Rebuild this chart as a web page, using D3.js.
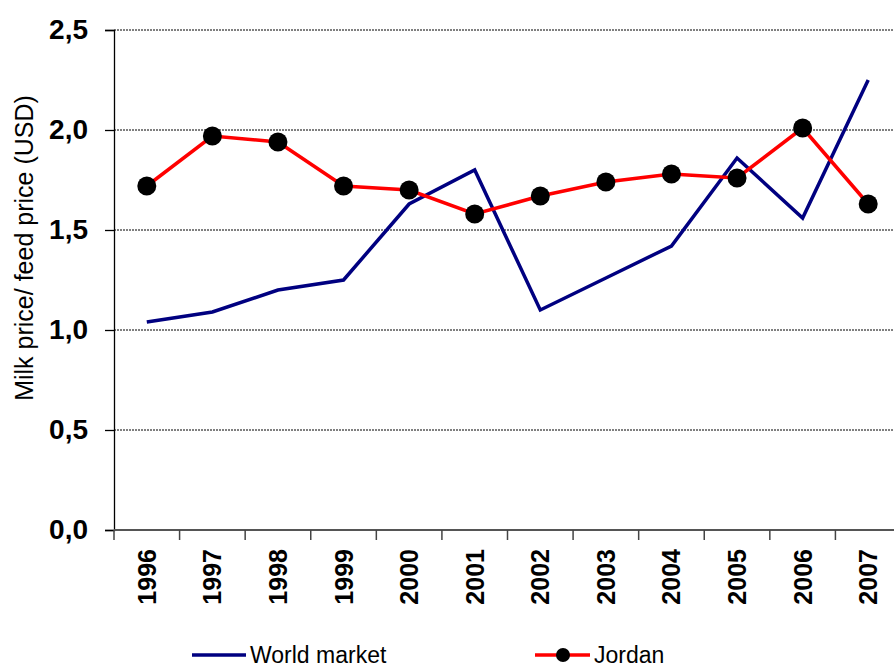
<!DOCTYPE html>
<html>
<head>
<meta charset="utf-8">
<script src="https://cdn.jsdelivr.net/npm/d3@7"></script>
<style>
  body { margin: 0; background: #fff; }
  svg { display: block; font-family: Arial, "Liberation Sans", sans-serif; }
</style>
</head>
<body>
<div id="chart"></div>
<script>
// data
var years = ["1996","1997","1998","1999","2000","2001","2002","2003","2004","2005","2006","2007"];
var worldMarket = [1.04, 1.09, 1.20, 1.25, 1.63, 1.80, 1.10, 1.26, 1.42, 1.86, 1.56, 2.25];
var jordan = [1.72, 1.97, 1.94, 1.72, 1.70, 1.58, 1.67, 1.74, 1.78, 1.76, 2.01, 1.63];
var yTicks = [0, 0.5, 1.0, 1.5, 2.0, 2.5];

var W = 894, H = 670;
var mLeft = 114, mTop = 30, mBottom = 530, mRight = 901;

var svg = d3.select("#chart").append("svg")
  .attr("width", W)
  .attr("height", H);

var x = d3.scaleBand().domain(years).range([mLeft, mRight]);
var y = d3.scaleLinear().domain([0, 2.5]).range([mBottom, mTop]);
var fmt = function(d) { return d3.format(".1f")(d).replace(".", ","); };

// grid lines
svg.append("g").selectAll("line")
  .data(yTicks.filter(function(d) { return d > 0; }))
  .enter().append("line")
  .attr("x1", mLeft).attr("x2", W)
  .attr("y1", function(d) { return y(d); })
  .attr("y2", function(d) { return y(d); })
  .attr("stroke", "#000")
  .attr("stroke-width", 1)
  .attr("stroke-dasharray", "2,1");

// y axis
var yAxis = svg.append("g")
  .attr("transform", "translate(" + mLeft + ",0)")
  .call(d3.axisLeft(y).tickValues(yTicks).tickFormat(fmt).tickSize(9).tickPadding(17));
yAxis.select(".domain").attr("stroke", "#000").attr("stroke-width", 1.3);
yAxis.selectAll(".tick line").attr("stroke", "#000").attr("stroke-width", 1.3);
yAxis.selectAll("text")
  .attr("font-size", "28px")
  .attr("font-weight", "bold")
  .attr("fill", "#000");

// x axis
var xAxis = svg.append("g")
  .attr("transform", "translate(0," + mBottom + ")")
  .call(d3.axisBottom(x).tickSize(0));
xAxis.select(".domain").attr("d", "M" + mLeft + ",0H" + W).attr("stroke", "#555").attr("stroke-width", 2);
xAxis.selectAll(".tick text")
  .attr("transform", "rotate(-90)")
  .attr("x", -19)
  .attr("y", 0)
  .attr("dy", "0.36em")
  .attr("text-anchor", "end")
  .attr("font-size", "25px")
  .attr("font-weight", "bold")
  .attr("fill", "#000");

// x tick marks between categories
var bounds = years.map(function(d) { return x(d); });
svg.append("g").selectAll("line")
  .data(bounds)
  .enter().append("line")
  .attr("x1", function(d) { return d; })
  .attr("x2", function(d) { return d; })
  .attr("y1", mBottom)
  .attr("y2", mBottom + 10)
  .attr("stroke", "#444")
  .attr("stroke-width", 1.5);

// y title
svg.append("text")
  .attr("transform", "translate(33,248) rotate(-90)")
  .attr("text-anchor", "middle")
  .attr("font-size", "25px")
  .attr("fill", "#000")
  .text("Milk price/ feed price (USD)");

var cx = function(d, i) { return x(years[i]) + x.bandwidth() / 2; };

var line = d3.line()
  .x(cx)
  .y(function(d) { return y(d); });

svg.append("path")
  .datum(worldMarket)
  .attr("d", line)
  .attr("fill", "none")
  .attr("stroke", "#000080")
  .attr("stroke-width", 3.5);

svg.append("path")
  .datum(jordan)
  .attr("d", line)
  .attr("fill", "none")
  .attr("stroke", "#ff0000")
  .attr("stroke-width", 3.5);

svg.append("g").selectAll("circle")
  .data(jordan)
  .enter().append("circle")
  .attr("cx", cx)
  .attr("cy", function(d) { return y(d); })
  .attr("r", 9.5)
  .attr("fill", "#000");

// legend
var lg = svg.append("g").attr("transform", "translate(0,655)");
lg.append("line")
  .attr("x1", 192).attr("x2", 246)
  .attr("stroke", "#000080").attr("stroke-width", 3.5);
lg.append("text")
  .attr("x", 250).attr("dy", "0.36em")
  .attr("font-size", "23px").attr("fill", "#000")
  .text("World market");
lg.append("line")
  .attr("x1", 535).attr("x2", 590)
  .attr("stroke", "#ff0000").attr("stroke-width", 3.5);
lg.append("circle")
  .attr("cx", 563).attr("r", 7).attr("fill", "#000");
lg.append("text")
  .attr("x", 594).attr("dy", "0.36em")
  .attr("font-size", "23px").attr("fill", "#000")
  .text("Jordan");
</script>
</body>
</html>
